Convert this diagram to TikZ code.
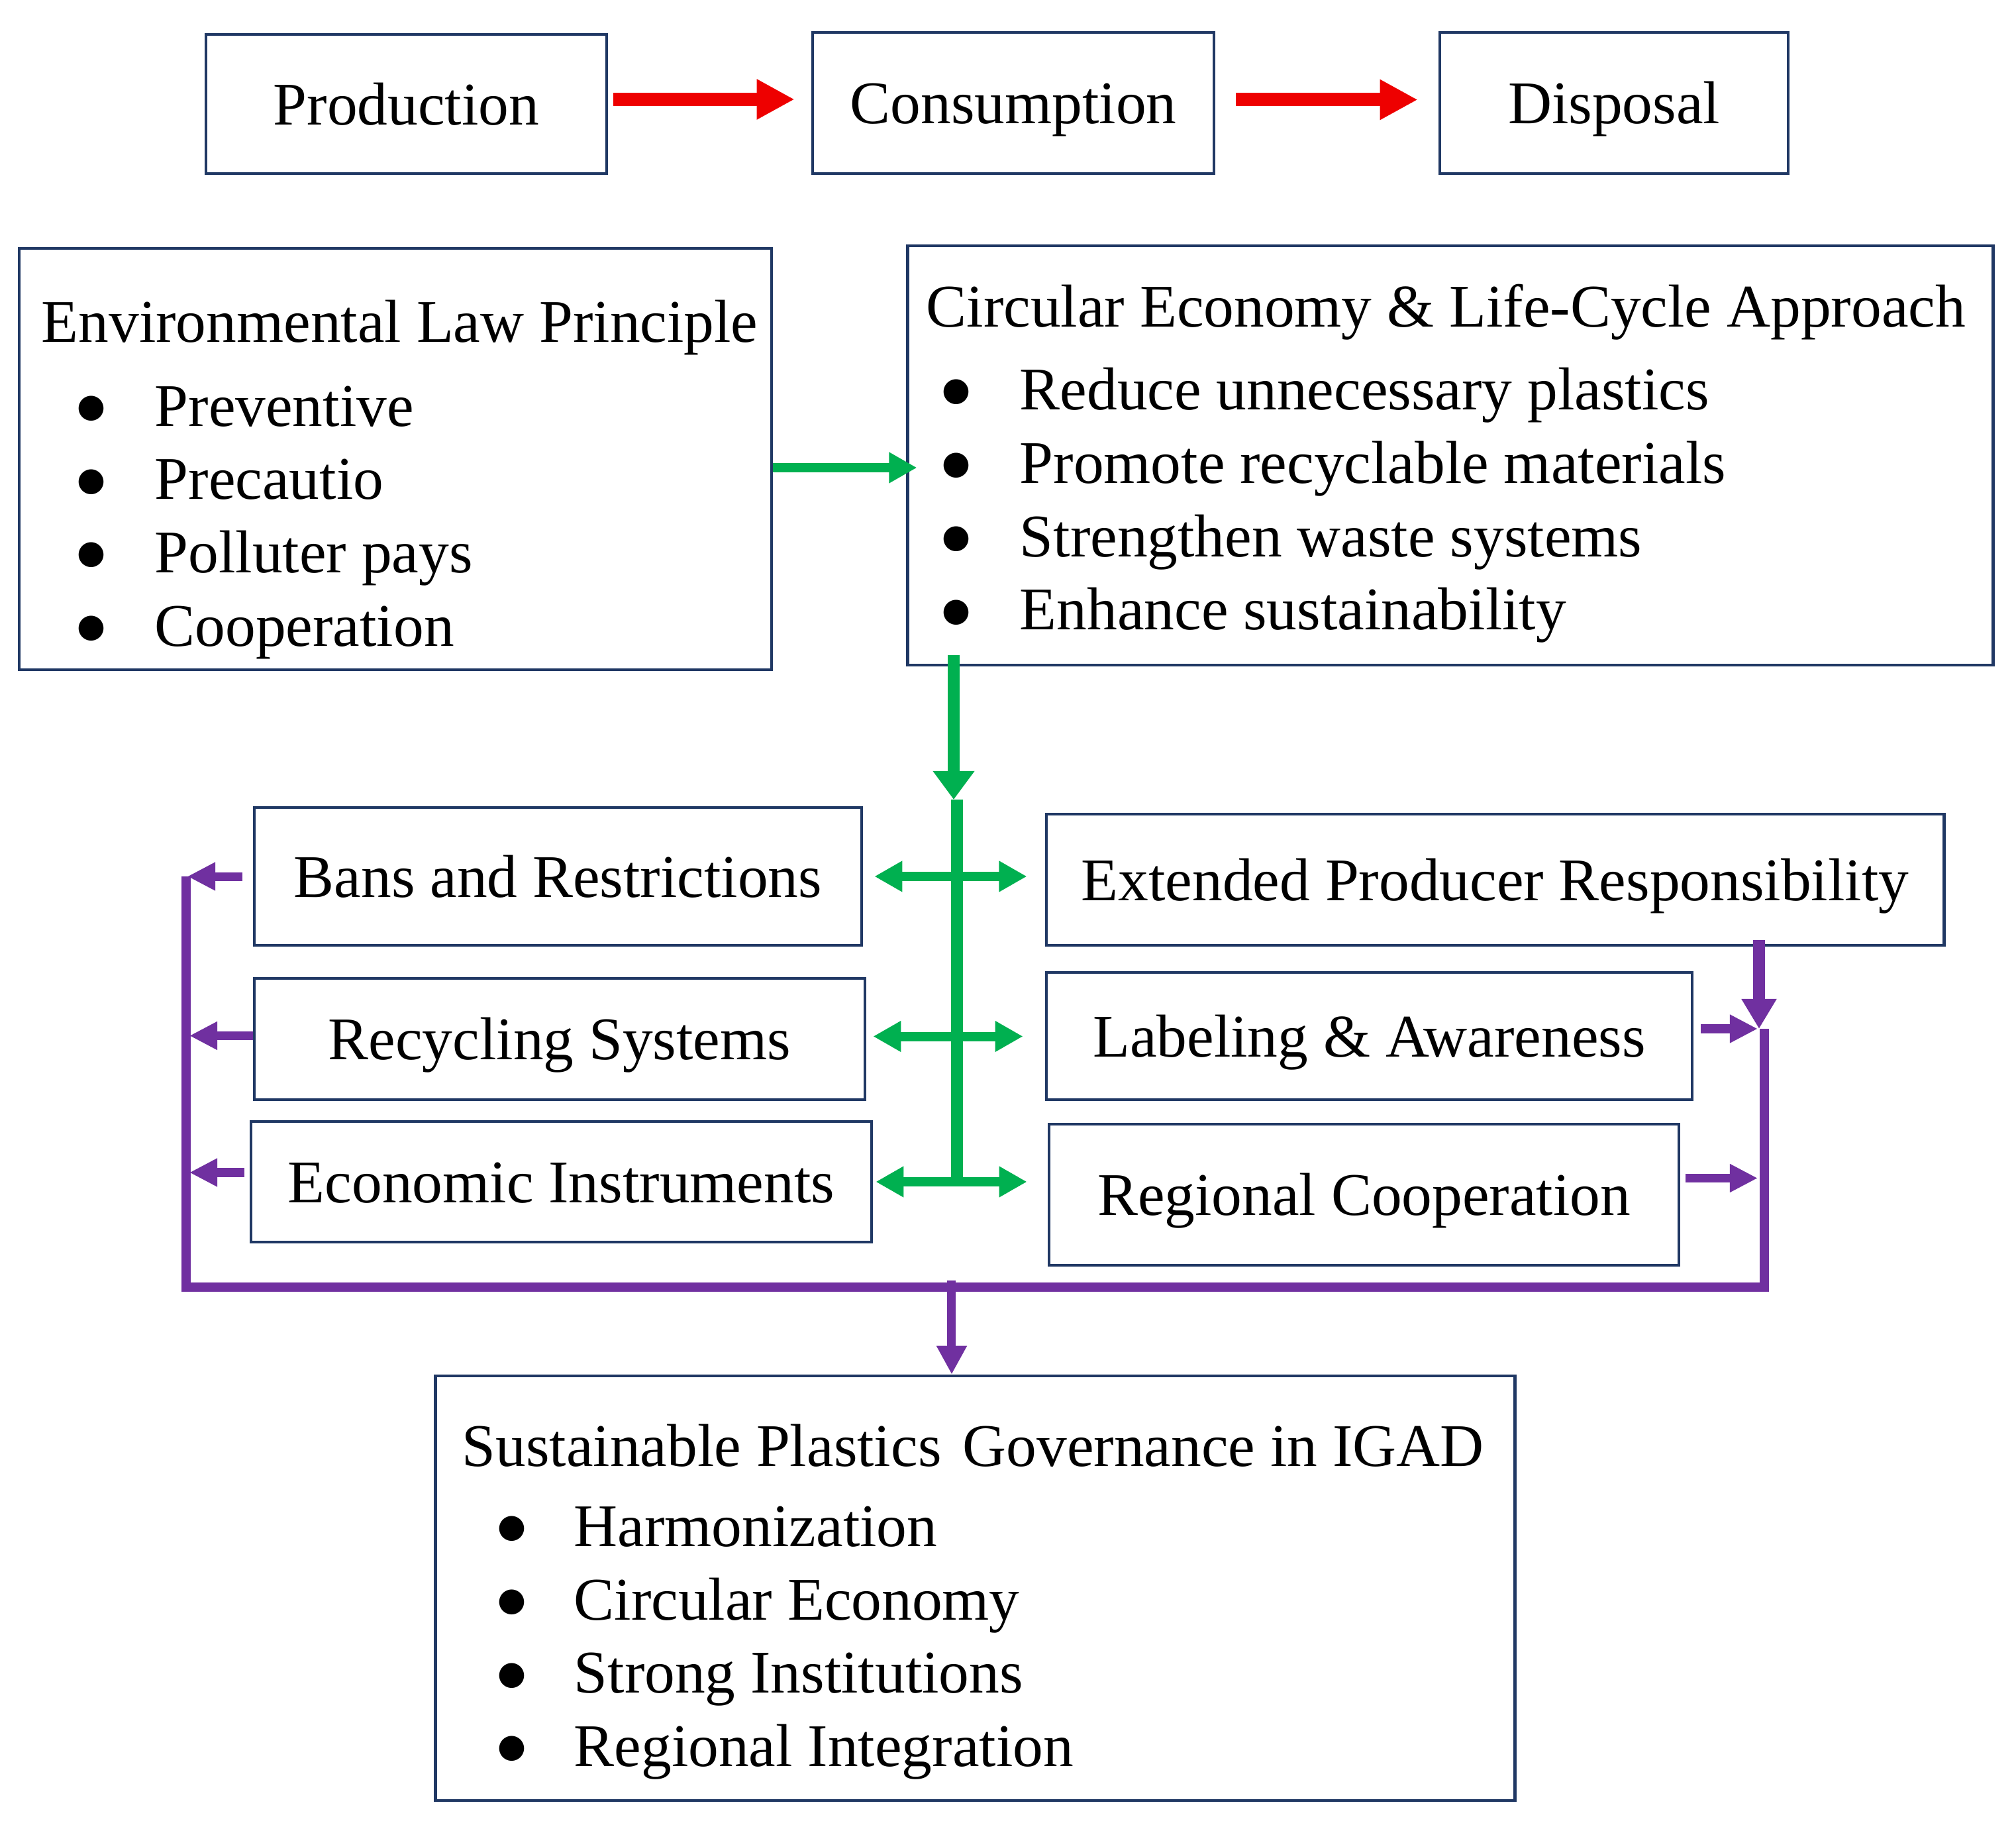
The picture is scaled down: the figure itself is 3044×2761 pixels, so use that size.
\documentclass[tikz,border=0pt]{standalone}
\usepackage{fontspec}
\setmainfont{Liberation Serif}
\newfontfamily\bulletfont{DejaVu Sans}
\usepackage{xcolor}
\usetikzlibrary{arrows.meta}
\definecolor{boxnavy}{HTML}{203864}
\definecolor{flowred}{HTML}{EE0000}
\definecolor{flowgreen}{HTML}{00B050}
\definecolor{flowpurple}{HTML}{7030A0}
% bullet item: bullet indent, text indent, text
\newcommand{\itm}[3]{\makebox[#2][l]{\hspace{#1}\raisebox{3.9pt}{\bulletfont\fontsize{14}{14}\selectfont ●}}#3}

\begin{document}
\begin{tikzpicture}[
  x=0.01cm, y=-0.01cm,
  font={\fontsize{26}{31.5}\selectfont},
  box/.style={draw=boxnavy, line width=1.2pt, inner sep=0pt,
              text height=17.8pt, text depth=0pt},
  listtext/.style={align=left, inner sep=0pt, anchor=west},
  redarr/.style={-{Triangle[length=0.57cm,width=0.57cm]}, flowred, line width=0.2cm},
  grnarr/.style={-{Triangle[length=0.42cm,width=0.44cm]}, flowgreen, line width=0.14cm},
  grndbl/.style={{Triangle[length=0.42cm,width=0.44cm]}-{Triangle[length=0.42cm,width=0.44cm]},
                 flowgreen, line width=0.14cm},
  grnline/.style={flowgreen, line width=0.18cm},
  purarr/.style={-{Triangle[length=0.42cm,width=0.4cm]}, flowpurple, line width=0.13cm},
  purline/.style={flowpurple, line width=0.14cm}
]
\useasboundingbox (0,0) rectangle (3044,2761);
%--- Row 1: linear economy ------------------------------------------------
\node[box, minimum width=6.05cm, minimum height=2.1cm]  (prod) at (613.5,157) {Production};
\node[box, minimum width=6.06cm, minimum height=2.13cm] (cons) at (1530,155.5) {Consumption};
\node[box, minimum width=5.26cm, minimum height=2.13cm] (disp) at (2437,155.5) {Disposal};
%--- Row 2: principles and approach ---------------------------------------
\node[box, minimum width=11.36cm, minimum height=6.36cm] (envlaw) at (597,693) {};
\node[listtext] (envtext) at (62,724) {%
  Environmental Law Principle\\[4.5pt]
  \itm{0.54cm}{1.71cm}{Preventive}\\
  \itm{0.54cm}{1.71cm}{Precautio}\\
  \itm{0.54cm}{1.71cm}{Polluter pays}\\
  \itm{0.54cm}{1.71cm}{Cooperation}%
};
\node[box, minimum width=16.38cm, minimum height=6.33cm] (circ) at (2190,687.5) {};
\node[listtext] (circtext) at (1398,700) {%
  Circular Economy \& Life-Cycle Approach\\[4pt]
  \itm{0.24cm}{1.41cm}{Reduce unnecessary plastics}\\
  \itm{0.24cm}{1.41cm}{Promote recyclable materials}\\
  \itm{0.24cm}{1.41cm}{Strengthen waste systems}\\
  \itm{0.24cm}{1.41cm}{Enhance sustainability}%
};
%--- Row 3: policy instruments --------------------------------------------
\node[box, minimum width=9.17cm, minimum height=2.08cm]  (bans) at (842.5,1323) {Bans and Restrictions};
\node[box, minimum width=9.22cm, minimum height=1.83cm]  (rec)  at (845,1568.5) {Recycling Systems};
\node[box, minimum width=9.37cm, minimum height=1.82cm]  (econ) at (847.5,1784) {Economic Instruments};
\node[box, minimum width=13.55cm, minimum height=1.98cm] (epr)  at (2257.5,1328) {Extended Producer Responsibility};
\node[box, minimum width=9.75cm, minimum height=1.92cm]  (lab)  at (2067.5,1564) {Labeling \& Awareness};
\node[box, minimum width=9.51cm, minimum height=2.13cm]  (reg)  at (2059.5,1803.5) {Regional Cooperation};
%--- Row 4: outcome -------------------------------------------------------
\node[box, minimum width=16.29cm, minimum height=6.41cm] (sust) at (1472.5,2397.5) {};
\node[listtext] (susttext) at (697,2418) {%
  Sustainable Plastics\hspace{0.35em}Governance in IGAD\\[3pt]
  \itm{0.54cm}{1.69cm}{Harmonization}\\
  \itm{0.54cm}{1.69cm}{Circular Economy}\\
  \itm{0.54cm}{1.69cm}{Strong Institutions}\\
  \itm{0.54cm}{1.69cm}{Regional Integration}%
};
%--- Red arrows: linear flow ----------------------------------------------
\draw[redarr, shorten <=0.08cm, shorten >=0.25cm]
  ([yshift=0.07cm]prod.east) -- ([yshift=0.07cm]prod.east -| cons.west);
\draw[redarr, shorten <=0.31cm, shorten >=0.31cm]
  ([yshift=0.05cm]cons.east) -- ([yshift=0.05cm]cons.east -| disp.west);
%--- Green arrows: principles -> instruments ------------------------------
\coordinate (ghub) at (1440,1207);
\draw[grnarr, shorten >=-0.16cm]
  ([yshift=-0.13cm]envlaw.east) -- ([yshift=-0.13cm]envlaw.east -| circ.west);
\draw[grnarr, line width=0.18cm, -{Triangle[length=0.43cm,width=0.6cm]}, shorten <=-0.17cm]
  (ghub |- circ.south) -- (ghub);
\draw[grnline] ([xshift=0.05cm]ghub) -- ([xshift=0.05cm]ghub |- econ.east);
\draw[grndbl, shorten <=0.17cm, shorten >=0.27cm] (bans.east) -- (bans.east -| epr.west);
\draw[grndbl, shorten <=0.10cm, shorten >=0.33cm] ([yshift=0.04cm]rec.east) -- ([yshift=0.04cm]rec.east -| lab.west);
\draw[grndbl, shorten <=0.04cm, shorten >=0.31cm] (econ.east) -- (econ.east -| reg.west);
%--- Purple arrows: instruments -> governance -----------------------------
\coordinate (pbl) at (281,1943);
\coordinate (pbr) at (2664,1943);
\coordinate (ptr) at (2664,1553);
\draw[purline] (pbl |- bans.west) -- (pbl) -- (pbr) -- (ptr);
\draw[purarr, shorten <=0.16cm, shorten >=0.02cm] (bans.west) -- (bans.west -| pbl);
\draw[purarr, shorten >=0.05cm] ([yshift=0.05cm]rec.west) -- ([yshift=0.05cm]rec.west -| pbl);
\draw[purarr, shorten <=0.08cm, shorten >=0.05cm] ([yshift=0.14cm]econ.west) -- ([yshift=0.14cm]econ.west -| pbl);
\draw[purarr, shorten <=0.11cm, shorten >=0.1cm] ([yshift=0.11cm]lab.east) -- ([yshift=0.11cm]lab.east -| ptr);
\draw[purarr, shorten <=0.08cm, shorten >=0.1cm] ([yshift=0.25cm]reg.east) -- ([yshift=0.25cm]reg.east -| ptr);
\draw[purarr, line width=0.18cm, -{Triangle[length=0.45cm,width=0.5cm]}, shorten <=-0.1cm]
  ([xshift=-0.08cm]epr.south -| ptr) -- ([xshift=-0.08cm]ptr);
\draw[purarr, -{Triangle[length=0.43cm,width=0.43cm]}, shorten <=-0.1cm]
  ([xshift=-0.355cm]sust.north |- pbl) -- ([xshift=-0.355cm]sust.north);
\end{tikzpicture}
\end{document}
